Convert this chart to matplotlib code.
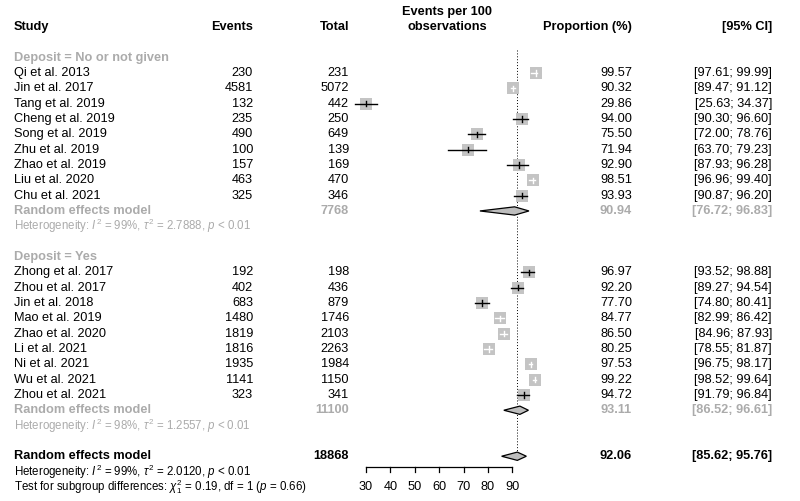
import numpy as np
import matplotlib
matplotlib.use("Agg")
import matplotlib.pyplot as plt
from matplotlib.patches import Rectangle, Polygon

plt.rcParams['font.family'] = ['Liberation Sans', 'DejaVu Sans']
plt.rcParams['mathtext.fontset'] = 'custom'
plt.rcParams['mathtext.rm'] = 'Liberation Sans'
plt.rcParams['mathtext.it'] = 'Liberation Sans:italic'
plt.rcParams['mathtext.bf'] = 'Liberation Sans:bold'

# ---- data ----
group_names = ["Deposit = No or not given", "Deposit = Yes"]

studies_no = ["Qi et al. 2013", "Jin et al. 2017", "Tang et al. 2019", "Cheng et al. 2019",
              "Song et al. 2019", "Zhu et al. 2019", "Zhao et al. 2019", "Liu et al. 2020",
              "Chu et al. 2021"]
events_no = [230, 4581, 132, 235, 490, 100, 157, 463, 325]
total_no = [231, 5072, 442, 250, 649, 139, 169, 470, 346]
prop_no = [99.57, 90.32, 29.86, 94.00, 75.50, 71.94, 92.90, 98.51, 93.93]
lo_no = [97.61, 89.47, 25.63, 90.30, 72.00, 63.70, 87.93, 96.96, 90.87]
hi_no = [99.99, 91.12, 34.37, 96.60, 78.76, 79.23, 96.28, 99.40, 96.20]

studies_yes = ["Zhong et al. 2017", "Zhou et al. 2017", "Jin et al. 2018", "Mao et al. 2019",
               "Zhao et al. 2020", "Li et al. 2021", "Ni et al. 2021", "Wu et al. 2021",
               "Zhou et al. 2021"]
events_yes = [192, 402, 683, 1480, 1819, 1816, 1935, 1141, 323]
total_yes = [198, 436, 879, 1746, 2103, 2263, 1984, 1150, 341]
prop_yes = [96.97, 92.20, 77.70, 84.77, 86.50, 80.25, 97.53, 99.22, 94.72]
lo_yes = [93.52, 89.27, 74.80, 82.99, 84.96, 78.55, 96.75, 98.52, 91.79]
hi_yes = [98.88, 94.54, 80.41, 86.42, 87.93, 81.87, 98.17, 99.64, 96.84]

sub_total = [7768, 11100]
sub_est = [90.94, 93.11]
sub_lo = [76.72, 86.52]
sub_hi = [96.83, 96.61]
sub_het = [r"Heterogeneity: $I^2$ = 99%, $\tau^2$ = 2.7888, $p$ < 0.01",
           r"Heterogeneity: $I^2$ = 98%, $\tau^2$ = 1.2557, $p$ < 0.01"]

all_total = 18868
all_est, all_lo, all_hi = 92.06, 85.62, 95.76
all_het = r"Heterogeneity: $I^2$ = 99%, $\tau^2$ = 2.0120, $p$ < 0.01"
test_txt = r"Test for subgroup differences: $\chi^2_1$ = 0.19, df = 1 ($p$ = 0.66)"

ticks = [30, 40, 50, 60, 70, 80, 90]

groups = [
    (studies_no, events_no, total_no, prop_no, lo_no, hi_no),
    (studies_yes, events_yes, total_yes, prop_yes, lo_yes, hi_yes),
]

# ---- layout ----
W, H = 800, 501
row0_px, row_h = 27.0, 15.33
gray = '#ababab'
box_col = '#c4c4c4'
fs = 9.2
fs_small = 8.3

fig = plt.figure(figsize=(8, 5.01), dpi=100)
ytop = -row0_px / row_h
ybot = (H - row0_px) / row_h

ax = fig.add_axes([0, 0, 1, 1])
ax.set_xlim(0, W)
ax.set_ylim(ybot, ytop)
ax.axis('off')

# forest panel: x in data units (30 -> 366 px, 90 -> 512.3 px)
px_per = (512.3 - 366.0) / 60.0
fx0, fx1 = 340, 570
fa = fig.add_axes([fx0 / W, 0, (fx1 - fx0) / W, 1])
fa.set_xlim(30 - (366 - fx0) / px_per, 30 + (fx1 - 366) / px_per)
fa.set_ylim(ybot, ytop)
fa.axis('off')

x_study, x_ev, x_tot, x_prop, x_ci, x_mid = 14, 253, 349, 632, 772, 447

# headers
for x, s, ha in [(x_study, "Study", 'left'), (x_ev, "Events", 'right'), (x_tot, "Total", 'right'),
                 (x_prop, "Proportion (%)", 'right'), (x_ci, "[95% CI]", 'right')]:
    ax.text(x, 0, s, ha=ha, va='center', fontsize=fs, fontweight='bold')
ax.text(x_mid, -0.98, "Events per 100", ha='center', va='center', fontsize=fs, fontweight='bold')
ax.text(x_mid, 0, "observations", ha='center', va='center', fontsize=fs, fontweight='bold')

box_w = 12 / px_per
box_h = 12 / row_h
dia_h = 0.27


def diamond(r, est, lo, hi):
    fa.add_patch(Polygon([[lo, r], [est, r - dia_h], [hi, r], [est, r + dia_h]],
                         closed=True, facecolor='#bdbdbd', edgecolor='black', lw=0.9, zorder=3))


row = 2
for gi, (names, ev, tot, pr, lo, hi) in enumerate(groups):
    ax.text(x_study, row, group_names[gi], ha='left', va='center', fontsize=fs,
            fontweight='bold', color=gray)
    row += 1
    for i in range(len(names)):
        ax.text(x_study, row, names[i], ha='left', va='center', fontsize=fs)
        ax.text(x_ev, row, str(ev[i]), ha='right', va='center', fontsize=fs)
        ax.text(x_tot, row, str(tot[i]), ha='right', va='center', fontsize=fs)
        ax.text(x_prop, row, "%.2f" % pr[i], ha='right', va='center', fontsize=fs)
        ax.text(x_ci, row, "[%.2f; %.2f]" % (lo[i], hi[i]), ha='right', va='center', fontsize=fs)
        fa.add_patch(Rectangle((pr[i] - box_w / 2, row - box_h / 2), box_w, box_h,
                               facecolor=box_col, edgecolor='none', zorder=2))
        inside = (pr[i] - lo[i] < box_w / 2) and (hi[i] - pr[i] < box_w / 2)
        lc = 'white' if inside else 'black'
        fa.plot([lo[i], hi[i]], [row, row], color=lc, lw=1.0, zorder=3)
        fa.plot([pr[i], pr[i]], [row - 0.17, row + 0.17], color=lc, lw=1.0, zorder=3)
        row += 1
    ax.text(x_study, row, "Random effects model", ha='left', va='center', fontsize=fs,
            fontweight='bold', color=gray)
    ax.text(x_tot, row, str(sub_total[gi]), ha='right', va='center', fontsize=fs,
            fontweight='bold', color=gray)
    ax.text(x_prop, row, "%.2f" % sub_est[gi], ha='right', va='center', fontsize=fs,
            fontweight='bold', color=gray)
    ax.text(x_ci, row, "[%.2f; %.2f]" % (sub_lo[gi], sub_hi[gi]), ha='right', va='center',
            fontsize=fs, fontweight='bold', color=gray)
    diamond(row, sub_est[gi], sub_lo[gi], sub_hi[gi])
    row += 1
    ax.text(x_study, row, sub_het[gi], ha='left', va='center', fontsize=fs_small, color=gray)
    row += 2

# overall
ax.text(x_study, row, "Random effects model", ha='left', va='center', fontsize=fs, fontweight='bold')
ax.text(x_tot, row, str(all_total), ha='right', va='center', fontsize=fs, fontweight='bold')
ax.text(x_prop, row, "%.2f" % all_est, ha='right', va='center', fontsize=fs, fontweight='bold')
ax.text(x_ci, row, "[%.2f; %.2f]" % (all_lo, all_hi), ha='right', va='center', fontsize=fs,
        fontweight='bold')
diamond(row, all_est, all_lo, all_hi)
ax.text(x_study, row + 1, all_het, ha='left', va='center', fontsize=fs_small)
ax.text(x_study, row + 2, test_txt, ha='left', va='center', fontsize=fs_small)

# reference line
fa.plot([all_est, all_est], [1.5, row + 0.3], color='black', lw=0.7, ls=(0, (1, 2)), zorder=1)

# x axis
ay = row + 0.72
fa.plot([ticks[0], ticks[-1]], [ay, ay], color='black', lw=0.9)
for t in ticks:
    fa.plot([t, t], [ay, ay + 0.33], color='black', lw=0.9)
    fa.text(t, row + 2, str(t), ha='center', va='center', fontsize=fs)

fig.savefig("out.png", dpi=100)
